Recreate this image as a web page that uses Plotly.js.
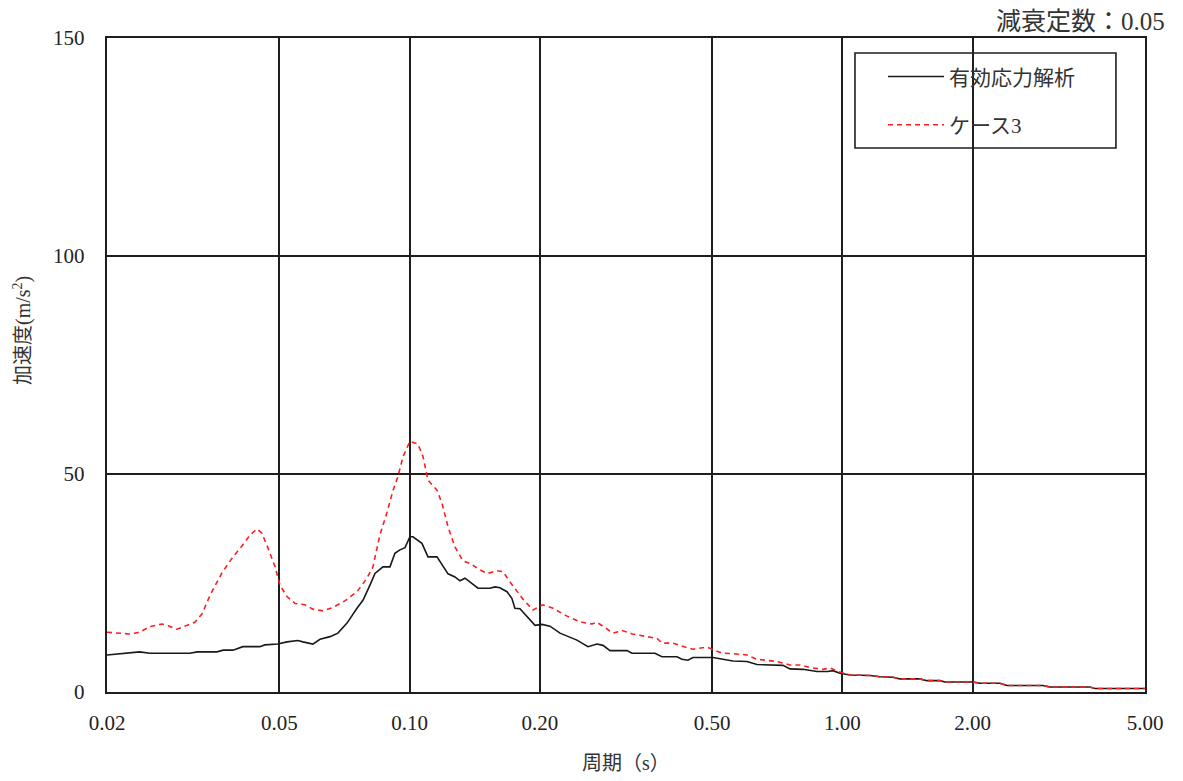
<!DOCTYPE html>
<html>
<head>
<meta charset="utf-8">
<script src="https://cdn.plot.ly/plotly-3.0.1.min.js"></script>
<style>html,body{margin:0;padding:0;background:#fff;}#chart{width:1183px;height:781px;}</style>
</head>
<body>
<div id="chart"></div>
<script>
// 有効応力解析 (black solid)
const periodEff = [0.0200,0.0238,0.0251,0.0311,0.0323,0.0359,0.0371,0.0391,0.0412,0.0451,0.0463,0.0496,0.0521,0.0552,0.0567,0.0598,0.0621,0.0655,0.0683,0.0717,0.0756,0.0781,0.0810,0.0832,0.0868,0.0901,0.0925,0.0950,0.0976,0.0992,0.1002,0.1018,0.1068,0.1103,0.1157,0.1227,0.1273,0.1307,0.1343,0.1439,0.1533,0.1575,0.1617,0.1679,0.1723,0.1751,0.1799,0.1949,0.2022,0.2110,0.2226,0.2436,0.2583,0.2710,0.2798,0.2904,0.3179,0.3265,0.3689,0.3828,0.4147,0.4259,0.4396,0.4515,0.5022,0.5586,0.6018,0.6346,0.6692,0.6799,0.7288,0.7563,0.8103,0.8733,0.9257,0.9508,0.9867,1.041,1.157,1.221,1.308,1.358,1.510,1.568,1.680,1.725,2.002,2.078,2.311,2.399,2.905,3.015,3.730,3.831,5.00];
const accelEff  = [8.5,9.2,8.9,8.9,9.2,9.2,9.6,9.6,10.4,10.4,10.8,11.0,11.5,11.8,11.5,11.0,12.1,12.7,13.5,15.8,19.2,21.1,24.5,27.2,28.7,28.7,31.8,32.6,33.1,34.9,35.6,35.6,34.1,31.0,31.0,27.1,26.4,25.5,26.1,23.8,23.8,24.1,23.9,23.0,21.5,19.2,19.1,15.3,15.5,15.1,13.5,11.9,10.4,11.0,10.7,9.5,9.5,8.9,8.9,8.1,8.1,7.5,7.3,7.9,7.9,7.1,7.0,6.3,6.2,6.1,6.1,5.3,5.2,4.7,4.7,4.9,4.3,3.9,3.8,3.5,3.4,3.0,3.0,2.6,2.6,2.3,2.3,2.0,2.0,1.5,1.5,1.15,1.15,0.8,0.8];

// ケース3 (red dashed)
const periodCase3 = [0.0200,0.0226,0.0238,0.0251,0.0268,0.0277,0.0290,0.0306,0.0319,0.0332,0.0346,0.0369,0.0389,0.0410,0.0428,0.0444,0.0456,0.0471,0.0489,0.0502,0.0521,0.0544,0.0573,0.0598,0.0631,0.0665,0.0709,0.0756,0.0797,0.0823,0.0854,0.0887,0.0916,0.0940,0.0966,0.1002,0.1045,0.1074,0.1103,0.1157,0.1188,0.1227,0.1273,0.1328,0.1379,0.1454,0.1513,0.1592,0.1643,0.1705,0.1770,0.1828,0.1928,0.2027,0.2145,0.2310,0.2475,0.2638,0.2710,0.2798,0.2951,0.3096,0.3273,0.3535,0.3728,0.3837,0.4060,0.4327,0.4515,0.4864,0.5022,0.5268,0.5586,0.6018,0.6346,0.7058,0.7563,0.7977,0.8413,0.9013,0.9363,0.9712,1.041,1.157,1.221,1.308,1.358,1.510,1.568,1.680,1.725,2.002,2.078,2.311,2.399,2.905,3.015,3.730,3.831,5.00];
const accelCase3  = [13.7,13.3,13.7,15.0,15.6,15.2,14.4,15.4,16.0,18.0,22.2,27.4,30.7,33.5,36.0,37.4,36.4,33.0,28.7,24.5,21.9,20.3,20.0,19.0,18.6,19.4,20.9,23.0,26.1,28.7,36.0,41.2,46.3,49.4,54.0,57.5,56.9,54.0,48.6,46.3,43.3,37.9,33.3,30.1,29.5,28.0,27.2,27.8,27.6,25.3,23.0,21.3,18.8,20.0,19.2,17.4,16.1,15.6,16.0,15.0,13.5,14.1,13.3,12.7,12.3,11.2,11.2,10.3,9.8,10.3,9.8,8.9,8.8,8.5,7.5,7.0,6.2,6.2,5.6,5.2,5.5,4.8,3.9,3.8,3.5,3.4,3.0,3.0,2.6,2.6,2.3,2.3,2.0,2.0,1.5,1.5,1.15,1.15,0.8,0.8];

const seriesNames = ['有効応力解析', 'ケース3'];
const xTickVals = [0.02, 0.05, 0.1, 0.2, 0.5, 1, 2, 5];
const xTickText = ['0.02', '0.05', '0.10', '0.20', '0.50', '1.00', '2.00', '5.00'];
const yTickVals = [0, 50, 100, 150];

const FONT = '"Liberation Serif", "Noto Sans CJK JP", serif';

const traces = [
  {x: periodEff, y: accelEff, type: 'scatter', mode: 'lines', name: seriesNames[0], legendgroup: 'a',
   line: {color: 'rgb(25,25,25)', width: 1.6}},
  {x: periodCase3, y: accelCase3, type: 'scatter', mode: 'lines', name: seriesNames[1], legendgroup: 'b',
   line: {color: 'rgb(255,30,30)', width: 1.6, dash: '5px,4px'}}
];

const gridColor = 'rgb(30,30,30)';
const layout = {
  width: 1183, height: 781,
  margin: {l: 107, r: 38, t: 38, b: 89, pad: 0},
  paper_bgcolor: '#fff', plot_bgcolor: '#fff',
  font: {family: FONT, color: '#222', size: 21},
  showlegend: true,
  legend: {x: 0.7476, y: 0.972, xanchor: 'left', yanchor: 'top', bgcolor: 'rgba(0,0,0,0)',
           borderwidth: 0, font: {family: FONT, size: 21, color: '#333'}, tracegroupgap: 18,
           itemwidth: 56},
  xaxis: {type: 'log', range: [Math.log10(0.02), Math.log10(5)], tickvals: xTickVals, ticktext: xTickText,
          showgrid: true, gridcolor: gridColor, gridwidth: 2, showline: true, linecolor: gridColor,
          linewidth: 2.4, mirror: true, ticks: '', ticklabelstandoff: 10, zeroline: false,
          tickfont: {family: FONT, size: 21, color: '#222'}},
  yaxis: {range: [0, 150], tickvals: yTickVals, showgrid: true, gridcolor: gridColor, gridwidth: 2,
          showline: true, linecolor: gridColor, linewidth: 2.4, mirror: true, ticks: '', zeroline: false,
          ticklabelstandoff: 16, tickfont: {family: FONT, size: 21, color: '#222'}},
  shapes: [
    {type: 'rect', xref: 'paper', yref: 'paper', x0: 0.7206, x1: 0.9720, y0: 0.8318, y1: 0.977,
     fillcolor: '#fff', line: {color: gridColor, width: 1.6}, layer: 'between'}
  ],
  annotations: [
    {xref: 'paper', yref: 'paper', x: 0.5, y: -0.1086, text: '周期（s）', showarrow: false,
     xanchor: 'center', yanchor: 'middle', font: {family: FONT, size: 20, color: '#333'}},
    {xref: 'paper', yref: 'paper', x: -0.0819, y: 0.5535, text: '加速度(m/s<sup>2</sup>)', showarrow: false,
     textangle: -90, xanchor: 'center', yanchor: 'middle', font: {family: FONT, size: 20, color: '#333'}},
    {xref: 'paper', yref: 'paper', x: 1.0212, y: 1.0245, text: '減衰定数：0.05', showarrow: false,
     xanchor: 'right', yanchor: 'middle', font: {family: FONT, size: 25, color: '#333'}}
  ]
};

Plotly.newPlot('chart', traces, layout, {displayModeBar: false, staticPlot: true});
</script>
</body>
</html>
